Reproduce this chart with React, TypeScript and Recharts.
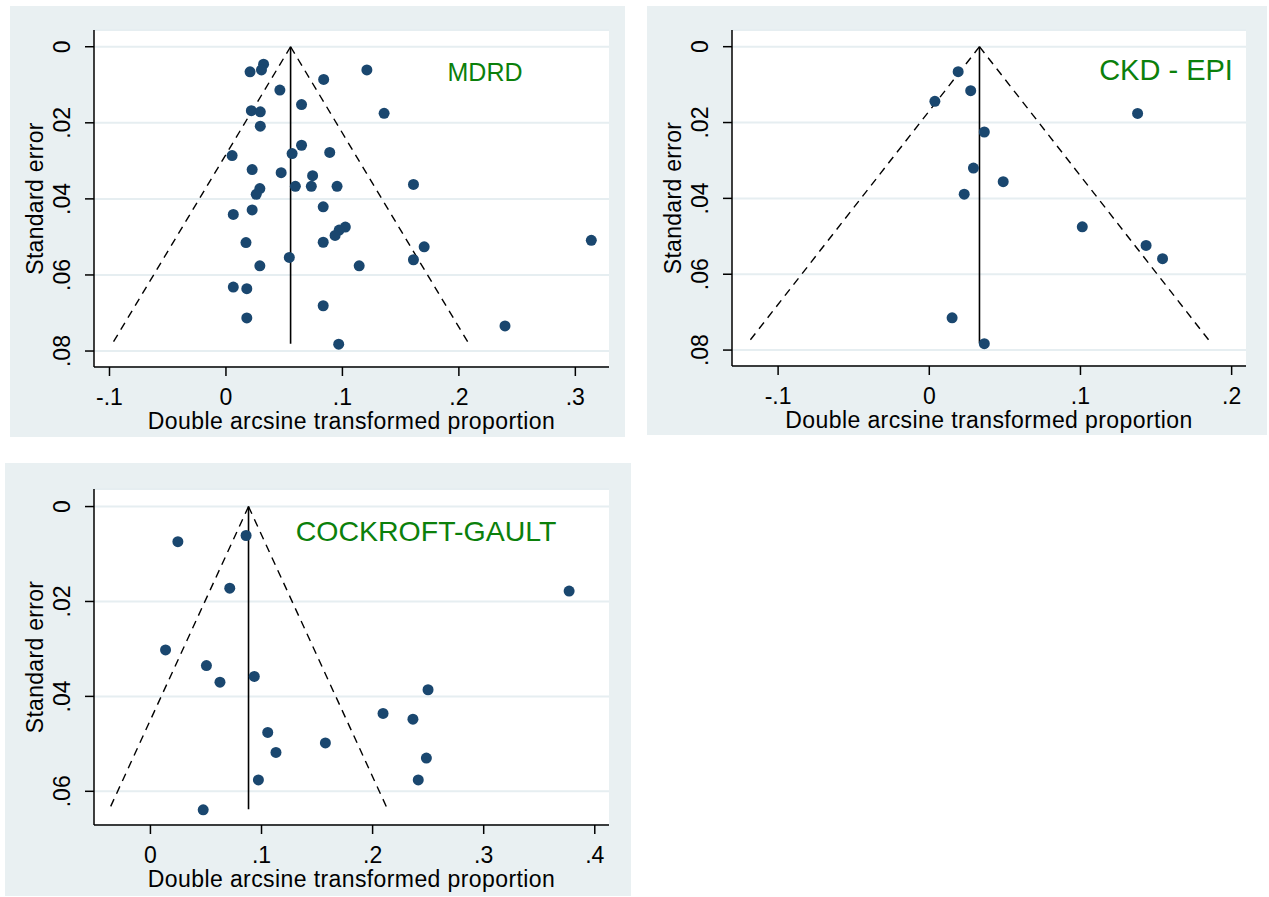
import React from "react";
import { CartesianGrid, ReferenceLine, Scatter, ScatterChart, XAxis, YAxis } from "recharts";

type Study = { x: number; se: number };

// MDRD: transformed proportion vs standard error
const mdrdStudies: Study[] = [
  { x: 0.0323, se: 0.0046 }, { x: 0.0305, se: 0.0061 }, { x: 0.0207, se: 0.0066 },
  { x: 0.121, se: 0.0061 }, { x: 0.0839, se: 0.0086 }, { x: 0.0463, se: 0.0114 },
  { x: 0.0649, se: 0.0152 }, { x: 0.0218, se: 0.0168 }, { x: 0.0295, se: 0.0171 },
  { x: 0.1358, se: 0.0175 }, { x: 0.0295, se: 0.0209 }, { x: 0.0649, se: 0.0259 },
  { x: 0.0568, se: 0.0281 }, { x: 0.0891, se: 0.0278 }, { x: 0.0053, se: 0.0286 },
  { x: 0.0225, se: 0.0323 }, { x: 0.0474, se: 0.0331 }, { x: 0.0744, se: 0.0339 },
  { x: 0.0291, se: 0.0373 }, { x: 0.026, se: 0.0388 }, { x: 0.0596, se: 0.0367 },
  { x: 0.0733, se: 0.0367 }, { x: 0.0954, se: 0.0367 }, { x: 0.161, se: 0.0362 },
  { x: 0.0835, se: 0.0421 }, { x: 0.0063, se: 0.0441 }, { x: 0.0225, se: 0.0429 },
  { x: 0.1025, se: 0.0474 }, { x: 0.0972, se: 0.0482 }, { x: 0.0937, se: 0.0496 },
  { x: 0.3137, se: 0.0509 }, { x: 0.0835, se: 0.0514 }, { x: 0.0172, se: 0.0515 },
  { x: 0.1702, se: 0.0526 }, { x: 0.0544, se: 0.0554 }, { x: 0.161, se: 0.056 },
  { x: 0.0291, se: 0.0576 }, { x: 0.1144, se: 0.0576 }, { x: 0.0063, se: 0.0632 },
  { x: 0.0179, se: 0.0636 }, { x: 0.0835, se: 0.0681 }, { x: 0.0179, se: 0.0713 },
  { x: 0.2396, se: 0.0734 }, { x: 0.0968, se: 0.0782 },
];

const ckdStudies: Study[] = [
  { x: 0.0191, se: 0.0066 }, { x: 0.0274, se: 0.0116 }, { x: 0.0037, se: 0.0144 },
  { x: 0.1378, se: 0.0176 }, { x: 0.0364, se: 0.0225 }, { x: 0.0292, se: 0.032 },
  { x: 0.0489, se: 0.0356 }, { x: 0.0231, se: 0.0389 }, { x: 0.1012, se: 0.0475 },
  { x: 0.1434, se: 0.0524 }, { x: 0.1543, se: 0.0559 }, { x: 0.0151, se: 0.0715 },
  { x: 0.0364, se: 0.0783 },
];

const cgStudies: Study[] = [
  { x: 0.0247, se: 0.0074 }, { x: 0.0861, se: 0.0061 }, { x: 0.0714, se: 0.0172 },
  { x: 0.3769, se: 0.0178 }, { x: 0.0136, se: 0.0302 }, { x: 0.0504, se: 0.0335 },
  { x: 0.0626, se: 0.037 }, { x: 0.0935, se: 0.0358 }, { x: 0.2499, se: 0.0386 },
  { x: 0.2094, se: 0.0436 }, { x: 0.2363, se: 0.0448 }, { x: 0.1056, se: 0.0476 },
  { x: 0.1575, se: 0.0498 }, { x: 0.113, se: 0.0518 }, { x: 0.2484, se: 0.053 },
  { x: 0.0972, se: 0.0576 }, { x: 0.2411, se: 0.0576 }, { x: 0.0475, se: 0.0639 },
];

// pooled estimate and funnel limits at the largest standard error
const mdrdFunnel = { pooled: 0.0555, seMax: 0.0781, lo: -0.0976, hi: 0.2086 };
const ckdFunnel = { pooled: 0.0332, seMax: 0.0782, lo: -0.1201, hi: 0.1865 };
const cgFunnel = { pooled: 0.0883, seMax: 0.0638, lo: -0.037, hi: 0.2135 };

const mdrdXTicks = [-0.1, 0, 0.1, 0.2, 0.3];
const ckdXTicks = [-0.1, 0, 0.1, 0.2];
const cgXTicks = [0, 0.1, 0.2, 0.3, 0.4];
const seTicks = [0, 0.02, 0.04, 0.06, 0.08];
const cgSeTicks = [0, 0.02, 0.04, 0.06];

const FONT = "'Liberation Sans', Arial, sans-serif";
const PANEL_BG = "#e9f0f2";
const GRID = "#e6eef1";
const MARKER = "#1a476f";
const LABEL_GREEN = "#0b800b";

const fmt = (v: number) => (v === 0 ? "0" : String(v).replace("0.", "."));

function XTick(props: any) {
  const { x, y, payload } = props;
  return (
    <text x={x} y={y + 27} textAnchor="middle" fontSize={23} fontFamily={FONT} fill="#000">
      {fmt(payload.value)}
    </text>
  );
}

function YTick(props: any) {
  const { x, y, payload } = props;
  const cx = x - 21;
  return (
    <text x={cx} y={y} dy="0.36em" transform={`rotate(-90 ${cx} ${y})`} textAnchor="middle" fontSize={23} fontFamily={FONT} fill="#000">
      {fmt(payload.value)}
    </text>
  );
}

function Dot(props: any) {
  if (props.cx == null || props.cy == null) return null;
  return <circle cx={props.cx} cy={props.cy} r={5.5} fill={MARKER} />;
}

type PanelProps = {
  studies: Study[];
  funnel: { pooled: number; seMax: number; lo: number; hi: number };
  xDomain: [number, number];
  yDomain: [number, number];
  xTicks: number[];
  yTicks: number[];
  box: { left: number; top: number; width: number; height: number };
  margin: { top: number; right: number };
  yAxisWidth: number;
  xAxisHeight: number;
};

function FunnelPanel({ studies, funnel, xDomain, yDomain, xTicks, yTicks, box, margin, yAxisWidth, xAxisHeight }: PanelProps) {
  const axisStyle = { stroke: "#000", strokeWidth: 1.5 };
  return (
    <div style={{ position: "absolute", left: box.left, top: box.top, width: box.width, height: box.height, background: PANEL_BG }}>
      <ScatterChart width={box.width} height={box.height} margin={{ top: margin.top, right: margin.right, left: 0, bottom: 0 }}>
        <CartesianGrid vertical={false} fill="#fff" fillOpacity={1} stroke={GRID} strokeWidth={2} />
        <XAxis
          type="number"
          dataKey="x"
          domain={xDomain}
          ticks={xTicks}
          allowDataOverflow
          height={xAxisHeight}
          axisLine={axisStyle}
          tickLine={axisStyle}
          tickSize={9}
          tickMargin={2}
          tick={<XTick />}
          label={(p: any) => {
            const vb = p.viewBox;
            if (!vb) return null;
            return (
              <text x={vb.x + vb.width / 2} y={vb.y + 62} textAnchor="middle" fontSize={23} letterSpacing={0.4} fontFamily={FONT} fill="#000">
                Double arcsine transformed proportion
              </text>
            );
          }}
        />
        <YAxis
          type="number"
          dataKey="se"
          reversed
          domain={yDomain}
          ticks={yTicks}
          allowDataOverflow
          width={yAxisWidth}
          axisLine={axisStyle}
          tickLine={axisStyle}
          tickSize={9}
          tickMargin={2}
          tick={<YTick />}
          label={(p: any) => {
            const vb = p.viewBox;
            if (!vb) return null;
            const cx = vb.x + vb.width - 59;
            const cy = vb.y + vb.height / 2;
            return (
              <text x={cx} y={cy} dy="0.36em" transform={`rotate(-90 ${cx} ${cy})`} textAnchor="middle" fontSize={23} letterSpacing={0.3} fontFamily={FONT} fill="#000">
                Standard error
              </text>
            );
          }}
        />
        <ReferenceLine segment={[{ x: funnel.pooled, y: 0 }, { x: funnel.lo, y: funnel.seMax }]} stroke="#000" strokeWidth={1.4} strokeDasharray="8 6" ifOverflow="visible" />
        <ReferenceLine segment={[{ x: funnel.pooled, y: 0 }, { x: funnel.hi, y: funnel.seMax }]} stroke="#000" strokeWidth={1.4} strokeDasharray="8 6" ifOverflow="visible" />
        <ReferenceLine segment={[{ x: funnel.pooled, y: 0 }, { x: funnel.pooled, y: funnel.seMax }]} stroke="#000" strokeWidth={1.6} ifOverflow="visible" />
        <Scatter data={studies} fill={MARKER} shape={<Dot />} isAnimationActive={false} />
      </ScatterChart>
    </div>
  );
}

const tagStyle = (x: number, y: number, size: number): React.CSSProperties => ({
  position: "absolute",
  left: x,
  top: y,
  transform: "translate(-50%, -50%)",
  fontFamily: FONT,
  fontSize: size,
  lineHeight: 1,
  color: LABEL_GREEN,
  whiteSpace: "nowrap",
});

export default function App() {
  return (
    <div style={{ position: "absolute", left: 0, top: 0, width: 1269, height: 897, background: "#fff" }}>
      <FunnelPanel
        studies={mdrdStudies}
        funnel={mdrdFunnel}
        xDomain={[-0.1133, 0.3289]}
        yDomain={[-0.0044, 0.0842]}
        xTicks={mdrdXTicks}
        yTicks={seTicks}
        box={{ left: 10, top: 6, width: 615, height: 431 }}
        margin={{ top: 24, right: 16 }}
        yAxisWidth={84}
        xAxisHeight={70}
      />
      <FunnelPanel
        studies={ckdStudies}
        funnel={ckdFunnel}
        xDomain={[-0.1305, 0.2095]}
        yDomain={[-0.0044, 0.0842]}
        xTicks={ckdXTicks}
        yTicks={seTicks}
        box={{ left: 647, top: 6, width: 620, height: 429 }}
        margin={{ top: 24, right: 21 }}
        yAxisWidth={85}
        xAxisHeight={69}
      />
      <FunnelPanel
        studies={cgStudies}
        funnel={cgFunnel}
        xDomain={[-0.0508, 0.4128]}
        yDomain={[-0.0037, 0.0671]}
        xTicks={cgXTicks}
        yTicks={cgSeTicks}
        box={{ left: 5, top: 463, width: 626, height: 433 }}
        margin={{ top: 26, right: 22 }}
        yAxisWidth={89}
        xAxisHeight={71}
      />
      <div style={tagStyle(485, 72, 25)}>MDRD</div>
      <div style={tagStyle(1166, 70, 29)}>CKD - EPI</div>
      <div style={tagStyle(426, 531, 28.5)}>COCKROFT-GAULT</div>
    </div>
  );
}
